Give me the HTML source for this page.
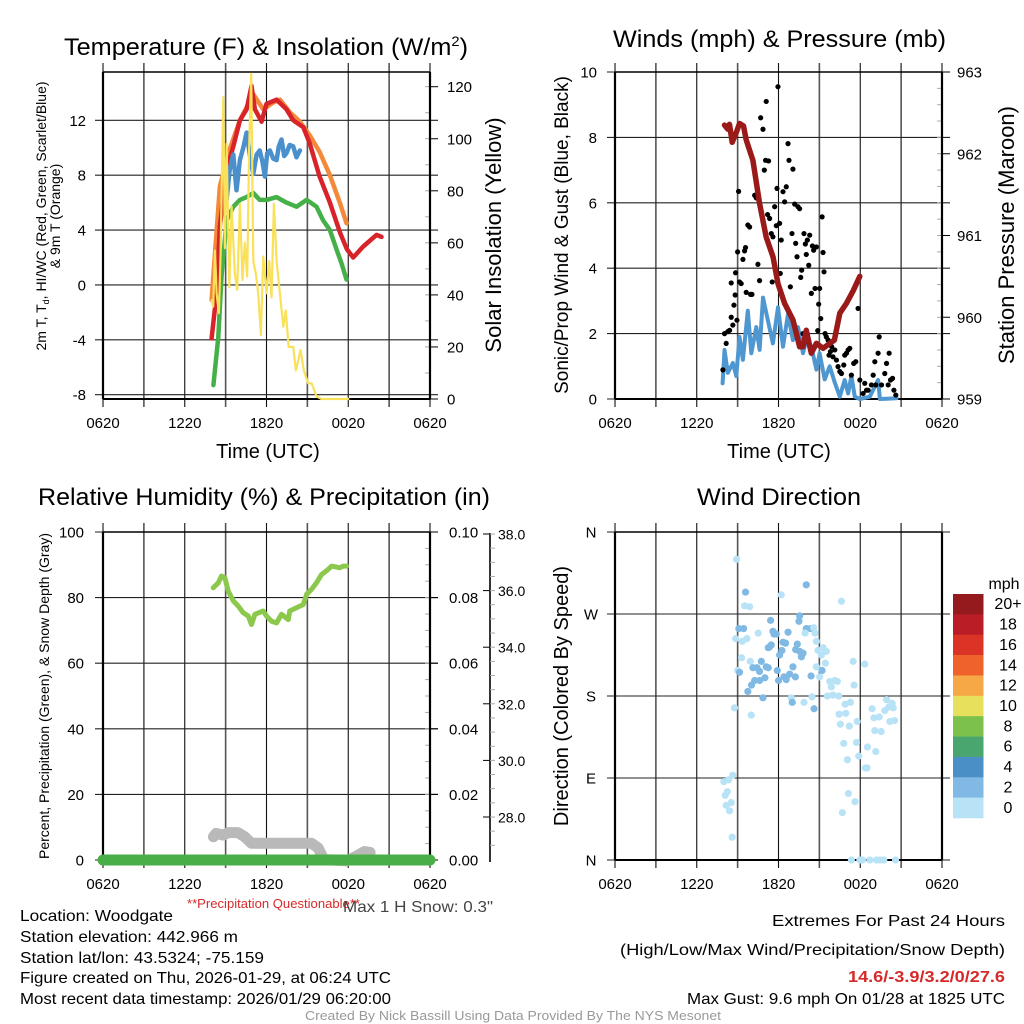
<!DOCTYPE html>
<html><head><meta charset="utf-8">
<style>
html,body{margin:0;padding:0;background:#fff;}
svg{display:block;font-family:"Liberation Sans",sans-serif;}
</style></head>
<body>
<svg id="fig" xmlns="http://www.w3.org/2000/svg" width="1024" height="1024" viewBox="0 0 1024 1024">
<rect width="1024" height="1024" fill="#fff"/>
<g id="p1"></g>
<g id="p2"></g>
<g id="p3"></g>
<g id="p4"></g>

<text x="64" y="55" font-size="24" textLength="404" lengthAdjust="spacingAndGlyphs">Temperature (F) &amp; Insolation (W/m<tspan dy="-9" font-size="14">2</tspan><tspan dy="9">)</tspan></text>
<text x="613" y="47" font-size="24" textLength="333" lengthAdjust="spacingAndGlyphs">Winds (mph) &amp; Pressure (mb)</text>
<text x="38" y="505" font-size="24" textLength="452" lengthAdjust="spacingAndGlyphs">Relative Humidity (%) &amp; Precipitation (in)</text>
<text x="697" y="505" font-size="24" textLength="164" lengthAdjust="spacingAndGlyphs">Wind Direction</text>

<text x="268" y="458" font-size="20" text-anchor="middle">Time (UTC)</text>
<text x="779" y="458" font-size="20" text-anchor="middle">Time (UTC)</text>

<text font-size="14" text-anchor="middle" transform="translate(46,216) rotate(-90)">2m T, T<tspan font-size="9" dy="3">d</tspan><tspan dy="-3">, HI/WC (Red, Green, Scarlet/Blue)</tspan></text>
<text font-size="14" text-anchor="middle" transform="translate(60,216) rotate(-90)">&amp; 9m T (Orange)</text>
<text font-size="22" text-anchor="middle" transform="translate(501,235) rotate(-90)">Solar Insolation (Yellow)</text>
<text font-size="19" text-anchor="middle" transform="translate(568,235) rotate(-90)">Sonic/Prop Wind &amp; Gust (Blue, Black)</text>
<text font-size="22" text-anchor="middle" transform="translate(1014,235) rotate(-90)">Station Pressure (Maroon)</text>
<text font-size="14" text-anchor="middle" transform="translate(49,696) rotate(-90)">Percent, Precipitation (Green), &amp; Snow Depth (Gray)</text>
<text font-size="20" text-anchor="middle" transform="translate(568,696) rotate(-90)">Direction (Colored By Speed)</text>

<text x="187" y="908" font-size="13" fill="#d62a2a" textLength="173" lengthAdjust="spacingAndGlyphs">**Precipitation Questionable**</text>
<text x="343" y="912" font-size="16" fill="#444" textLength="150" lengthAdjust="spacingAndGlyphs">Max 1 H Snow: 0.3"</text>

<g font-size="16">
<text x="20" y="921" textLength="153" lengthAdjust="spacingAndGlyphs">Location: Woodgate</text>
<text x="20" y="942" textLength="218" lengthAdjust="spacingAndGlyphs">Station elevation: 442.966 m</text>
<text x="20" y="963" textLength="244" lengthAdjust="spacingAndGlyphs">Station lat/lon: 43.5324; -75.159</text>
<text x="20" y="983" textLength="371" lengthAdjust="spacingAndGlyphs">Figure created on Thu, 2026-01-29, at 06:24 UTC</text>
<text x="20" y="1004" textLength="371" lengthAdjust="spacingAndGlyphs">Most recent data timestamp: 2026/01/29 06:20:00</text>
</g>
<g font-size="16" text-anchor="end">
<text x="1005" y="926" textLength="233" lengthAdjust="spacingAndGlyphs">Extremes For Past 24 Hours</text>
<text x="1005" y="955" textLength="385" lengthAdjust="spacingAndGlyphs">(High/Low/Max Wind/Precipitation/Snow Depth)</text>
<text x="1005" y="982" font-weight="bold" fill="#d62a2a" textLength="157" lengthAdjust="spacingAndGlyphs">14.6/-3.9/3.2/0/27.6</text>
<text x="1005" y="1004" textLength="318" lengthAdjust="spacingAndGlyphs">Max Gust: 9.6 mph On 01/28 at 1825 UTC</text>
</g>
<text x="305" y="1020" font-size="13" fill="#999" textLength="416" lengthAdjust="spacingAndGlyphs">Created By Nick Bassill Using Data Provided By The NYS Mesonet</text>
</svg>
<script>
// ---------- data (hours after 0620 UTC) ----------
const xTickLabels = ["0620","1220","1820","0020","0620"];
const tempLeftTicks = [-8,-4,0,4,8,12];
const solarTicks = [0,20,40,60,80,100,120];
const windTicks = [0,2,4,6,8,10];
const pressTicks = [959,960,961,962,963];
const rhTicks = [0,20,40,60,80,100];
const precipTicks = ["0.00","0.02","0.04","0.06","0.08","0.10"];
const snowTicks = ["28.0","30.0","32.0","34.0","36.0","38.0"];
const dirLabels = ["N","E","S","W","N"];

const tempT = [7.97,8.34,8.58,9.07,9.56,10.05,10.54,10.9,11.15,11.64,12.0,12.74,13.47,13.96,14.7,15.18,15.9,16.65,17.4,17.9,18.36,19.1,20.07,20.44];
const tempV = [-3.9,-0.6,4.3,8.4,10.1,12.0,12.8,14.5,12.8,11.9,13.2,13.5,12.8,12.0,11.5,10.3,7.9,6.0,3.8,2.6,2.0,2.8,3.65,3.5];
const t9T = [7.97,8.58,9.3,10.05,11.03,11.76,12.5,13.0,13.7,14.45,15.18,15.9,16.65,17.38,17.87];
const t9V = [-1.1,7.2,9.9,12.0,13.9,12.8,13.3,13.5,12.6,11.9,10.9,9.7,8.0,6.0,4.5];
const hiT = [9.07,9.3,9.56,9.8,10.05,10.3,10.54,10.8,11.03,11.27,11.5,11.7,11.88,12.05,12.25,12.5,12.74,12.9,13.1,13.3,13.47,13.7,13.96,14.2,14.45];
const hiV = [6.2,8.4,9.5,6.9,9.1,10.0,11.1,9.3,8.1,9.5,9.8,9.0,7.9,9.6,9.8,9.2,9.1,10.1,10.6,9.4,9.6,10.2,10.1,9.3,9.8];
const dewT = [8.1,8.46,8.7,9.07,9.56,10.05,10.54,11.03,11.5,12.0,12.74,13.47,14.2,14.94,15.67,16.16,16.65,17.14,17.5,17.87];
const dewV = [-7.3,-3.8,0.6,4.7,5.7,6.2,6.4,6.7,6.2,6.2,6.4,6.0,5.7,6.2,5.7,4.7,4.0,2.6,1.6,0.4];
const solT = [7.97,8.09,8.22,8.34,8.51,8.63,8.83,8.95,9.07,9.27,9.44,9.68,9.85,10.05,10.24,10.41,10.58,10.73,10.88,11.03,11.22,11.39,11.59,11.76,12.0,12.2,12.37,12.54,12.74,12.98,13.23,13.42,13.62,13.96,14.16,14.5,14.74,15.06,15.31,15.67,16.04,18.0];
const solV = [38,35.5,57,40.6,33,56,116,58,98,43,74,48,42,75,45.7,60,47,98,125,53,48,40.6,24.6,54.7,40.6,53,39,75,53,40.6,27.8,34,20,20,11,18.8,11,6,6,1,0,0];

const pressT = [8.04,8.28,8.4,8.6,8.9,9.14,9.43,9.63,10.12,10.61,11.1,11.6,11.96,12.45,13.06,13.55,13.8,14.04,14.41,14.78,15.27,15.76,16.1,16.5,16.98,17.5,17.97];
const pressV = [962.35,962.3,962.36,962.14,962.26,962.37,962.34,962.17,961.92,961.39,960.98,960.74,960.41,960.17,959.97,959.64,959.64,959.84,959.56,959.68,959.62,959.68,959.72,960.05,960.17,960.33,960.5];
const windT = [7.9,8.04,8.28,8.65,8.9,9.14,9.39,9.75,10.0,10.37,10.61,10.86,11.22,11.59,11.96,12.33,12.7,13.06,13.43,13.8,14.04,14.41,14.78,15.02,15.39,15.76,16.13,16.5,16.86,17.11,17.35,17.6,17.97,18.7,19.31,19.44,20.66];
const windV = [0.48,1.5,0.8,1.1,0.7,1.9,1.2,2.7,1.4,2.2,1.5,3.1,2.4,1.7,2.8,1.6,2.6,1.8,2.2,1.4,1.8,1.6,0.9,1.4,0.6,1.0,0.5,0.07,0.58,0.17,0.7,0.07,0,0.07,0.58,0,0.02];
const gustT = [7.92,8.04,8.16,8.28,8.41,8.53,8.53,8.65,8.73,8.82,8.85,8.95,9.0,9.07,9.14,9.26,9.39,9.51,9.58,9.63,9.75,9.88,9.95,10.05,10.25,10.37,10.49,10.61,10.69,10.86,10.96,11.05,11.1,11.2,11.27,11.35,11.47,11.54,11.59,11.72,11.84,11.89,11.96,12.08,12.13,12.2,12.33,12.45,12.57,12.7,12.77,12.87,12.99,13.06,13.19,13.26,13.36,13.43,13.55,13.63,13.7,13.8,13.87,13.97,14.04,14.12,14.22,14.29,14.41,14.49,14.58,14.68,14.78,14.88,14.95,15.02,15.1,15.2,15.27,15.34,15.42,15.51,15.64,15.71,15.81,15.9,16.0,16.13,16.25,16.37,16.5,16.62,16.79,16.86,16.99,17.11,17.23,17.35,17.52,17.67,17.84,17.97,18.21,18.33,18.46,18.58,18.82,18.95,19.07,19.14,19.31,19.39,19.56,19.8,19.93,20.05,20.12,20.22,20.37,20.47,20.61];
const gustV = [0.89,2.0,1.7,2.06,2.1,2.5,3.55,2.26,2.87,3.18,3.86,2.41,4.5,6.35,3.58,3.53,4.27,4.53,4.63,3.26,5.32,5.26,3.2,3.2,6.23,6.15,4.12,3.62,8.6,8.25,7.0,7.3,9.1,5.64,7.28,5.52,5.06,3.58,4.96,5.88,5.3,6.44,9.55,5.37,3.84,4.86,6.34,6.03,6.49,7.81,7.3,3.43,5.06,7.03,5.96,4.76,4.35,5.88,5.82,3.72,3.94,2.0,5.06,4.74,4.42,4.86,4.09,5.01,3.23,4.68,4.55,3.38,4.65,2.09,2.9,3.38,2.46,5.57,4.48,3.89,2.0,1.9,1.8,1.34,1.45,1.6,1.29,1.5,1.19,0.99,0.84,0.78,1.04,1.34,1.4,1.5,1.55,0.73,1.09,1.14,2.77,0.58,0.17,0.48,0.27,0.27,0.43,0.73,1.14,0.43,1.4,1.9,0.43,0.78,1.09,0.43,1.4,0.58,0.63,0.27,0.12];

const rhT = [8.09,8.46,8.7,8.95,9.19,9.56,9.93,10.29,10.66,10.9,11.15,11.76,12.0,12.37,12.74,13.1,13.6,13.7,14.2,14.7,14.94,15.3,15.67,16.04,16.53,16.77,17.14,17.38,17.63,17.87];
const rhV = [83,84.5,86.6,86,82,79,77.4,75.4,74.4,71.8,74.9,75.9,74.4,72.8,72.3,74.9,73.3,75.9,76.9,77.9,81,82.5,84.5,87,88.6,89.6,89.3,89.1,89.6,89.6];
const precipT = [0,24];
const precipV = [0,0];
const snowT = [8.1,8.3,8.8,9.2,9.9,10.4,10.9,15.3,15.8,16.2,17.9,18.6,19.2,19.6];
const snowV = [27.3,27.42,27.36,27.45,27.45,27.3,27.07,27.07,26.9,26.5,26.45,26.62,26.78,26.75];

const dirT = [8.92,9.58,9.51,9.88,12.2,14.04,16.62,9.09,9.44,10.51,
8.85,9.34,9.68,11.42,11.59,11.84,11.67,12.7,13.55,13.5,
14.04,14.34,13.95,14.58,14.68,14.78,9.29,9.93,11.35,11.25,
11.47,12.52,12.33,13.38,13.26,13.55,13.8,13.68,12.25,12.08,
14.9,15.27,15.51,15.15,15.44,17.48,18.33,14.78,9.0,9.14,
10.12,10.42,10.74,11.1,11.25,10.61,11.0,11.91,13.06,12.82,
12.4,12.57,13.24,14.39,15.2,15.02,15.76,16.13,16.32,15.88,
17.55,10.02,10.25,10.61,9.75,12.0,12.94,10.86,13.01,13.87,
14.46,14.61,15.59,16.0,16.42,8.77,10.0,16.89,17.28,16.45,
16.94,16.54,17.2,17.77,18.87,19.0,19.39,19.07,19.53,19.93,
19.8,20.1,20.34,20.42,20.17,20.51,16.79,17.72,18.53,19.14,
17.89,17.06,18.38,18.5,7.99,8.33,8.65,8.24,8.09,8.53,
8.16,8.41,17.13,17.62,16.69,8.6,17.35,17.97,18.16,18.7,
19.19,19.44,19.73,20.59];
const dirV = [330,294,279,278,291,302,284,254,254,249,
243,240,243,263,251,248,248,250,268,262,
254,254,249,255,249,240,222,218,234,233,
236,238,239,237,231,229,227,223,230,225,
230,233,229,225,216,218,215,212,208,206,
211,211,218,212,211,207,200,208,212,204,
201,198,201,202,208,201,196,197,196,190,
192,192,197,197,185,197,178,178,173,173,
179,166,180,181,180,167,159,171,173,160,
161,149,147,152,166,156,157,142,141,176,
164,168,172,167,152,153,128,129,124,119,
114,110,101,101,86,88,93,75,71,63,
60,54,73,64,52,25,0,0,0,0,
0,0,0,0];
const dirSpd = [1,3,1,1,1,3,1,3,3,1,
1,1,1,3,3,3,3,3,3,3,
3,3,1,1,1,1,1,1,3,3,
3,3,3,3,3,3,3,3,3,3,
1,1,1,1,1,1,1,1,1,3,
3,3,3,3,3,3,3,3,3,3,
3,3,3,3,3,1,1,1,1,1,
1,3,3,3,3,3,1,3,3,1,
1,3,1,1,1,1,1,1,1,1,
1,1,1,1,1,1,1,1,1,1,
1,1,1,1,1,1,1,1,1,1,
1,1,1,1,1,1,1,1,1,1,
1,1,1,1,1,1,1,1,1,1,
1,1,1,1];
const barLabels = ["20+","18","16","14","12","10","8","6","4","2","0"];
const barColors = ["#951a1d","#bb1d26","#dc3327","#f0622c","#f6a846","#e6e05c","#7cc14c","#4aa66f","#4a8fc5","#80b9e3","#b8e3f7"];

// ---------- helpers ----------
const NS="http://www.w3.org/2000/svg";
function mk(parent,tag,attrs){const e=document.createElementNS(NS,tag);for(const k in attrs)e.setAttribute(k,attrs[k]);parent.appendChild(e);return e;}
function xScale(L,R){return h=>L+h*(R-L)/24;}
function linScale(v0,p0,v1,p1){return v=>p0+(v-v0)*(p1-p0)/(v1-v0);}

function frame(g,L,R,T,B,xLabels,labelY){
  const xs=xScale(L,R);
  for(let i=0;i<=8;i++){
    const x=xs(i*3);
    const ln=mk(g,"line",{x1:x,y1:T-9,x2:x,y2:B+8,stroke:i%2?"#555":"#111","stroke-width":i%2?1.6:1.1});
    
    
  }
  if(xLabels){
    xLabels.forEach((s,i)=>{
      const t=mk(g,"text",{x:xs(i*6),y:labelY,"font-size":15,"text-anchor":"middle"});
      t.textContent=s;
      
      
    });
  }
}
function hgrid(g,L,R,ys){
  ys.forEach((y,i)=>{
    const ln=mk(g,"line",{x1:L-8,y1:y,x2:R+8,y2:y,stroke:"#222","stroke-width":1.1});
    
    
  });
}
function minor(g,x,ys,dir){
  ys.forEach(y=>{const l=mk(g,"line",{x1:x,y1:y,x2:x+dir*5,y2:y,stroke:"#aaa","stroke-width":1});
  
  });
}
function labels(g,items,x,anchor,size){
  items.forEach(([s,y])=>{
    const t=mk(g,"text",{x:x,y:y+5.5,"font-size":size||15,"text-anchor":anchor});
    t.textContent=s;
    
    
  });
}
function axesBox(g,L,R,T,B){
  const l1=mk(g,"line",{x1:L,y1:T,x2:L,y2:B,stroke:"#000","stroke-width":2.2});
  
  
  const l2=mk(g,"line",{x1:R,y1:T,x2:R,y2:B,stroke:"#000","stroke-width":2.2});
  
  
  const l3=mk(g,"line",{x1:L,y1:B,x2:R,y2:B,stroke:"#000","stroke-width":2});
  
  
  const l4=mk(g,"line",{x1:L,y1:T,x2:R,y2:T,stroke:"#000","stroke-width":1.5});
  
  
}
function line(g,name,T,V,xs,ys,color,w){
  const pts=T.map((t,i)=>xs(t).toFixed(1)+","+ys(V[i]).toFixed(1)).join(" ");
  const p=mk(g,"polyline",{points:pts,fill:"none",stroke:color,"stroke-width":w,"stroke-linejoin":"round","stroke-linecap":"round"});
  
  
  return p;
}

// ---------- panel 1 ----------
(function(){
  const g=document.getElementById("p1");
  const L=103,R=430,T=72,B=399;
  const xs=xScale(L,R), yT=linScale(12,120.3,-8,394.7), yW=linScale(0,399,120,86.7);
  frame(g,L,R,T,B,xTickLabels,428);
  hgrid(g,L,R,tempLeftTicks.map(yT));
  const mi=[];for(let w=10;w<=120;w+=10)mi.push(yW(w));minor(g,R,mi,-1);
  axesBox(g,L,R,T,B);
  labels(g,tempLeftTicks.map(v=>[String(v),yT(v)]),86,"end");
  labels(g,solarTicks.map(v=>[String(v),yW(v)]),447,"start");
  solarTicks.forEach(v=>{const l=mk(g,"line",{x1:R,y1:yW(v),x2:R+8,y2:yW(v),stroke:"#000"});});
  line(g,"orange-9m-temp-line",t9T,t9V,xs,yT,"#f5893a",4.5);
  line(g,"red-2m-temp-line",tempT,tempV,xs,yT,"#d8232a",4.5);
  line(g,"blue-heat-index-line",hiT,hiV,xs,yT,"#4a90cc",4.5);
  line(g,"green-dewpoint-line",dewT,dewV,xs,yT,"#45b048",4.5);
  line(g,"yellow-insolation-line",solT,solV,xs,yW,"#f9e15a",2.2);
})();

// ---------- panel 2 ----------
(function(){
  const g=document.getElementById("p2");
  const L=615,R=942,T=72,B=399;
  const xs=xScale(L,R), yS=linScale(0,399,10,72), yP=linScale(959,399,963,72);
  frame(g,L,R,T,B,xTickLabels,428);
  hgrid(g,L,R,windTicks.map(yS));
  const mi=[];for(let p=959;p<963;p+=0.2)mi.push(yP(p));minor(g,R,mi,-1);
  axesBox(g,L,R,T,B);
  labels(g,windTicks.map(v=>[String(v),yS(v)]),597,"end");
  labels(g,pressTicks.map(v=>[String(v),yP(v)]),957,"start");
  pressTicks.forEach(v=>{const l=mk(g,"line",{x1:R,y1:yP(v),x2:R+8,y2:yP(v),stroke:"#000"});});
  line(g,"blue-wind-line",windT,windV,xs,yS,"#4f97d0",4);
  gustT.forEach((t,i)=>{
    const c=mk(g,"circle",{cx:xs(t),cy:yS(gustV[i]),r:2.6,fill:"#000"});
    
    
  });
  line(g,"maroon-pressure-line",pressT,pressV,xs,yP,"#9a1a1a",5.5);
})();

// ---------- panel 3 ----------
(function(){
  const g=document.getElementById("p3");
  const L=103,R=430,T=532,B=860;
  const xs=xScale(L,R), yR=linScale(0,860,100,532), yPr=linScale(0,860,0.1,532), ySn=linScale(28,817,38,534);
  frame(g,L,R,T,B,xTickLabels,889);
  hgrid(g,L,R,rhTicks.map(yR));
  const mi=[];for(let v=5;v<100;v+=5)mi.push(yR(v));minor(g,R,mi,-1);
  axesBox(g,L,R,T,B);
  labels(g,rhTicks.map(v=>[String(v),yR(v)]),84,"end");
  labels(g,precipTicks.map(v=>[v,yPr(parseFloat(v))]),449,"start");
  precipTicks.forEach(v=>{const y=yPr(parseFloat(v));const l=mk(g,"line",{x1:R,y1:y,x2:R+8,y2:y,stroke:"#000"});});
  const ax=mk(g,"line",{x1:490,y1:533,x2:490,y2:862,stroke:"#000","stroke-width":1.6});
  
  
  snowTicks.forEach(s=>{const y=ySn(parseFloat(s));const l=mk(g,"line",{x1:483,y1:y,x2:490,y2:y,stroke:"#000"});});
  const mi2=[];for(let s=27;s<=38;s+=0.5)mi2.push(ySn(s));minor(g,490,mi2.filter(y=>y<=860),1);
  labels(g,snowTicks.map(s=>[s,ySn(parseFloat(s))]),498,"start",14);
  line(g,"gray-snow-depth-line",snowT,snowV,xs,ySn,"#b9b9b9",11);
  line(g,"green-precip-line",precipT,precipV,xs,yPr,"#4aae48",11);
  line(g,"green-rh-line",rhT,rhV,xs,yR,"#8cc84b",5);
})();

// ---------- panel 4 ----------
(function(){
  const g=document.getElementById("p4");
  const L=615,R=942,T=532,B=860;
  const xs=xScale(L,R), yD=linScale(0,860,360,532);
  frame(g,L,R,T,B,xTickLabels,889);
  hgrid(g,L,R,[0,90,180,270,360].map(yD));
  axesBox(g,L,R,T,B);
  labels(g,dirLabels.map((s,i)=>[s,yD(i*90)]),591,"middle");
  function col(s){const idx=Math.min(10,Math.floor(s/2));return barColors[10-idx];}
  const n=Math.min(dirT.length,dirV.length,dirSpd.length);
  for(let i=0;i<n;i++){
    const c=mk(g,"circle",{cx:xs(dirT[i]),cy:yD(dirV[i]),r:3.6,fill:col(dirSpd[i])});
    
    
  }
  const bh=(818-594)/barColors.length;
  barColors.forEach((c,i)=>{
    const r=mk(g,"rect",{x:953,y:594+i*bh,width:30.5,height:bh+0.3,fill:c});
    
    
    const t=mk(g,"text",{x:1008,y:594+i*bh+bh/2+5,"font-size":16,"text-anchor":"middle"});
    t.textContent=barLabels[i];
    
    
  });
  const u=mk(g,"text",{x:1004,y:589,"font-size":16,"text-anchor":"middle"});
  u.textContent="mph";
  
  
})();
</script>
</body></html>
